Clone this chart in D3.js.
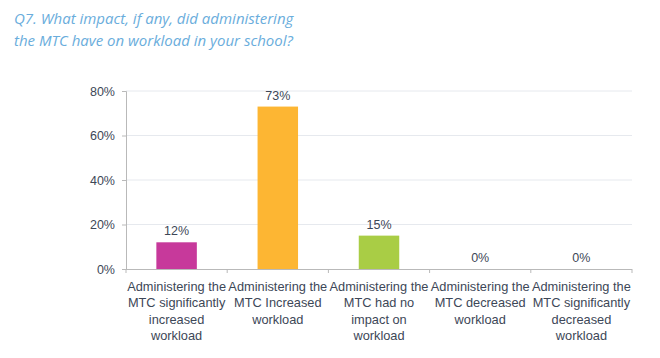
<!DOCTYPE html>
<html><head><meta charset="utf-8">
<script src="https://cdn.jsdelivr.net/npm/d3@7"></script>
<style>
body{margin:0;background:#fff;}
svg{display:block;}
</style></head>
<body>
<svg id="c" width="660" height="358"></svg>
<script>
const categories = [
  ["Administering the","MTC significantly","increased","workload"],
  ["Administering the","MTC Increased","workload"],
  ["Administering the","MTC had no","impact on","workload"],
  ["Administering the","MTC decreased","workload"],
  ["Administering the","MTC significantly","decreased","workload"]
];
const values = [12, 73, 15, 0, 0];
const valueLabels = ["12%","73%","15%","0%","0%"];
const colors = ["#c7399b","#fdb633","#a9cd45","#999","#999"];
const yTicks = [0,20,40,60,80];
const titleLines = ["Q7. What impact, if any, did administering","the MTC have on workload in your school?"];

const svg = d3.select("#c");
const m = {l:126, r:632, t:91, b:269};

svg.append("g").selectAll("text").data(titleLines).join("text")
  .attr("x",14).attr("y",(d,i)=>24+i*22)
  .attr("font-family","Open Sans, sans-serif").attr("font-style","italic")
  .attr("font-size",15).attr("fill","#6aaddc").attr("font-weight",400)
  .text(d=>d);

const x = d3.scaleBand().domain(d3.range(values.length)).range([m.l,m.r]).paddingInner(0.6).paddingOuter(0.3);
const y = d3.scaleLinear().domain([0,80]).range([m.b,m.t]);

// gridlines
svg.append("g").selectAll("line").data(yTicks.filter(d=>d>0)).join("line")
  .attr("x1",m.l).attr("x2",m.r).attr("y1",d=>y(d)).attr("y2",d=>y(d))
  .attr("stroke","#e6e9ee").attr("stroke-width",1);

// y axis
const ya = svg.append("g").attr("transform",`translate(${m.l},0)`)
  .call(d3.axisLeft(y).tickValues(yTicks).tickFormat(d=>d+"%").tickSize(4).tickPadding(7));
ya.select(".domain").attr("stroke","#b9b9b9");
ya.selectAll(".tick line").attr("stroke","#b9b9b9");
ya.selectAll("text").attr("font-family","Liberation Sans, Arial, sans-serif").attr("font-size",12.5).attr("fill","#3d4757");

// bars
svg.append("g").selectAll("rect").data(values).join("rect")
  .attr("x",(d,i)=>x(i)).attr("width",x.bandwidth())
  .attr("y",d=>y(d)).attr("height",d=>y(0)-y(d))
  .attr("fill",(d,i)=>colors[i]);

// value labels
svg.append("g").selectAll("text").data(values).join("text")
  .attr("x",(d,i)=>x(i)+x.bandwidth()/2).attr("y",d=>y(d)-7)
  .attr("text-anchor","middle")
  .attr("font-family","Liberation Sans, Arial, sans-serif").attr("font-size",12.5).attr("fill","#3d4757")
  .text((d,i)=>valueLabels[i]);

// x axis
const step = (m.r-m.l)/values.length;
const xa = svg.append("g");
xa.append("line").attr("x1",m.l).attr("x2",m.r).attr("y1",m.b+0.5).attr("y2",m.b+0.5).attr("stroke","#b9b9b9");
xa.selectAll(".tk").data(d3.range(values.length+1)).join("line").attr("class","tk")
  .attr("x1",i=>m.l+i*step).attr("x2",i=>m.l+i*step).attr("y1",m.b).attr("y2",m.b+4).attr("stroke","#b9b9b9");

const cl = svg.append("g").selectAll("text").data(categories).join("text")
  .attr("x",(d,i)=>x(i)+x.bandwidth()/2).attr("y",291)
  .attr("text-anchor","middle")
  .attr("font-family","Liberation Sans, Arial, sans-serif").attr("font-size",12.8).attr("fill","#3d4757");
cl.selectAll("tspan").data(d=>d).join("tspan")
  .attr("x",function(){return this.parentNode.getAttribute("x");})
  .attr("dy",(d,i)=>i===0?0:16.3).text(d=>d);
</script>
</body></html>
